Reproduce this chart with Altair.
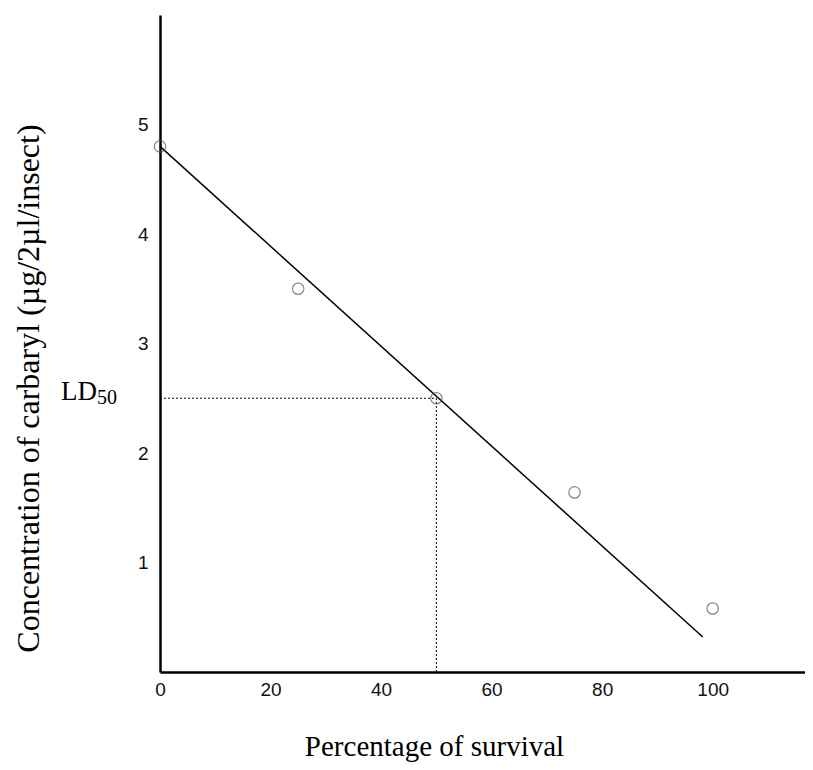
import altair as alt
import pandas as pd

# data
survival = [0, 25, 50, 75, 100]
concentration = [4.80, 3.50, 2.50, 1.64, 0.58]
fit_x = [0, 98.2]
fit_y = [4.80, 0.32]
ld50_x = 50
ld50_y = 2.5
x_ticks = [0, 20, 40, 60, 80, 100]
y_ticks = [1, 2, 3, 4, 5]

pts = pd.DataFrame({"x": survival, "y": concentration})
fit = pd.DataFrame({"x": fit_x, "y": fit_y})
hdash = pd.DataFrame({"x": [0, ld50_x], "y": [ld50_y, ld50_y]})
vdash = pd.DataFrame({"x": [ld50_x, ld50_x], "y": [0, ld50_y]})

xs = alt.Scale(domain=[0, 116.7], nice=False, zero=False)
ys = alt.Scale(domain=[0, 6], nice=False, zero=False)

xaxis = alt.Axis(
    values=x_ticks, format="d", ticks=False, grid=False, domainColor="black", domainWidth=2.5,
    labelFont="Liberation Sans", labelFontSize=19, labelColor="#111", labelPadding=8,
    labelFlush=False,
    title="Percentage of survival", titleFont="Liberation Serif", titleFontSize=29,
    titleFontWeight="normal", titleColor="black", titleX=274, titleY=83,
    titleBaseline="alphabetic", titleAnchor="start", titleAlign="center",
)
yaxis = alt.Axis(
    values=y_ticks, format="d", ticks=False, grid=False, domainColor="black", domainWidth=2.5,
    labelFont="Liberation Sans", labelFontSize=19, labelColor="#111", labelPadding=12,
    labelFlush=False,
    title="Concentration of carbaryl (µg/2µl/insect)", titleFont="Liberation Serif",
    titleFontSize=32, titleFontWeight="normal", titleColor="black",
    titleX=-122, titleY=373, titleBaseline="alphabetic", titleAlign="center", titleAngle=270,
)

base_x = alt.X("x:Q", scale=xs, axis=xaxis)
base_y = alt.Y("y:Q", scale=ys, axis=yaxis)

fit_line = alt.Chart(fit).mark_line(color="black", strokeWidth=1.5).encode(x=base_x, y=base_y)
h_line = alt.Chart(hdash).mark_line(color="black", strokeWidth=1, strokeDash=[2, 2]).encode(
    x=alt.X("x:Q", scale=xs), y=alt.Y("y:Q", scale=ys))
v_line = alt.Chart(vdash).mark_line(color="black", strokeWidth=1, strokeDash=[2, 2]).encode(
    x=alt.X("x:Q", scale=xs), y=alt.Y("y:Q", scale=ys))
points = alt.Chart(pts).mark_point(shape="circle", filled=False, color="#555", size=130,
                                   strokeWidth=1.2).encode(
    x=alt.X("x:Q", scale=xs), y=alt.Y("y:Q", scale=ys))

ld_main = alt.Chart(pd.DataFrame({"t": ["LD"]})).mark_text(
    font="Liberation Serif", fontSize=27, color="black", align="right",
    baseline="alphabetic", dx=-63, dy=2).encode(
    x=alt.value(0), y=alt.datum(ld50_y, scale=ys), text="t:N")
ld_sub = alt.Chart(pd.DataFrame({"t": ["50"]})).mark_text(
    font="Liberation Serif", fontSize=20, color="black", align="left",
    baseline="alphabetic", dx=-63, dy=6).encode(
    x=alt.value(0), y=alt.datum(ld50_y, scale=ys), text="t:N")

chart = alt.layer(fit_line, h_line, v_line, points, ld_main, ld_sub).properties(
    width=645, height=657,
    autosize=alt.AutoSizeParams(type="none"),
    padding={"left": 152, "top": 7, "right": 0, "bottom": 90},
    background="white",
).configure_view(strokeWidth=0)

chart.save("out.html", embed_options={"renderer": "svg", "actions": False})
